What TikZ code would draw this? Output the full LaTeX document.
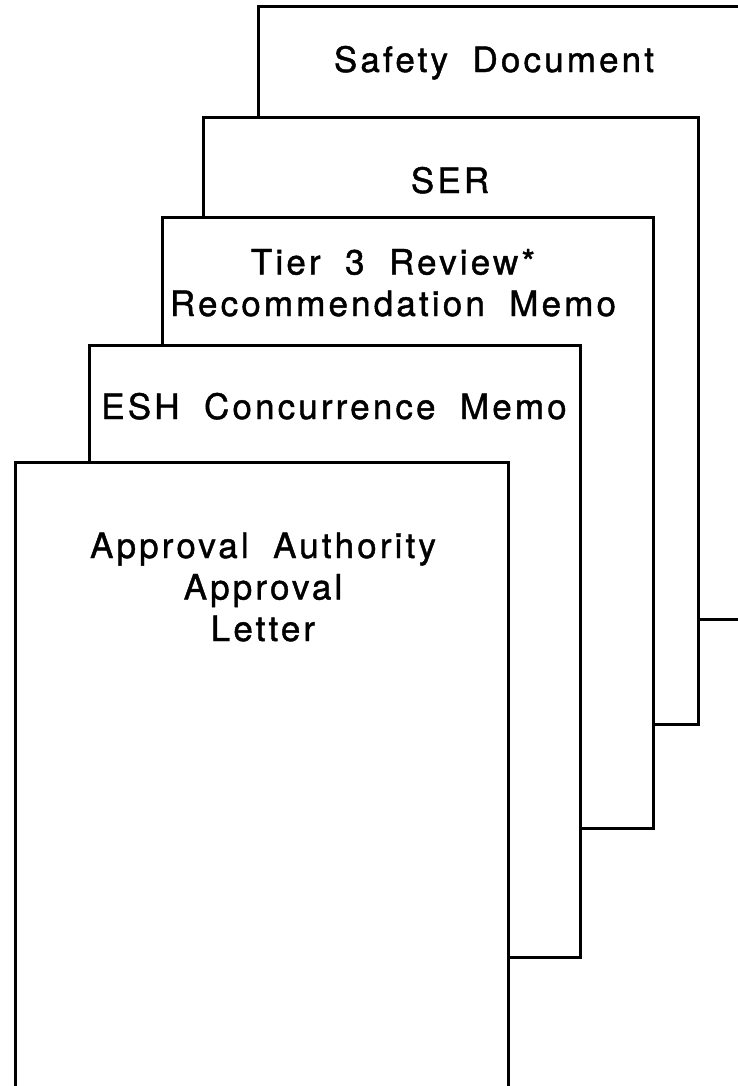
\documentclass[tikz,border=0pt]{standalone}
\usepackage{fontspec}
\setmainfont{TeX Gyre Heros}[LetterSpace=9,WordSpace=1.9,FakeBold=1.2]
\tikzset{
         paper/.style={draw,fill=white,line width=2.8bp,anchor=north west,inner sep=0pt},
         doctext/.style={font=\fontsize{35bp}{41.5bp}\selectfont,align=center,anchor=base,inner sep=0pt}
        }

\begin{document}
\begin{tikzpicture}[x=1bp,y=-1bp]
\useasboundingbox(0,0)rectangle(738,1086);
\clip(0,0)rectangle(738,1086);
% stack of papers, back to front
\node[paper,minimum width=492bp,minimum height=613bp](sd)at(257,5){};
\node[paper,minimum width=495bp,minimum height=607bp](ser)at(202,116){};
\node[paper,minimum width=491bp,minimum height=611bp](tier)at(161,216){};
\node[paper,minimum width=491bp,minimum height=612bp](esh)at(88,344){};
\node[paper,minimum width=493bp,minimum height=640bp](appr)at(14,461){};
% titles (base = last line)
\node[doctext](sdtext)at(494,72){Safety Document};
\node[doctext](sertext)at(450,193){SER};
\node[doctext](tiertext)at(393,316){Tier 3 Review*\\Recommendation Memo};
\node[doctext](eshtext)at(334,419){ESH Concurrence Memo};
\node[doctext](apprtext)at(263,641){Approval Authority\\Approval\\Letter};
\end{tikzpicture}
\end{document}
